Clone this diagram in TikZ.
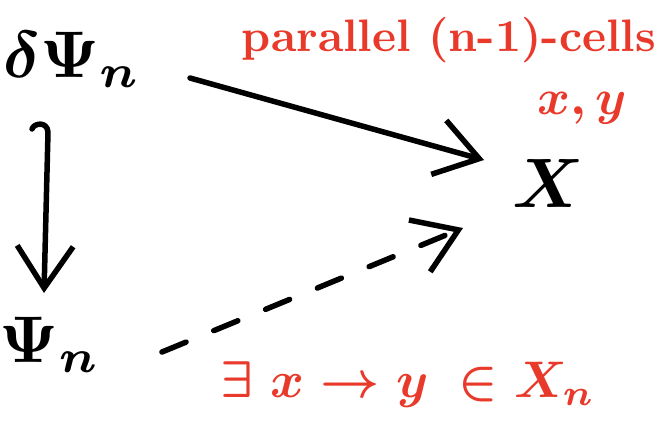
\documentclass[tikz,border=0pt]{standalone}
\usepackage{graphicx}
\usepackage{tikz}
\usetikzlibrary{arrows.meta}
\definecolor{inkred}{HTML}{E8392A}
\newcommand{\handsz}[2]{\scalebox{#1}{#2}}

\begin{document}
\begin{tikzpicture}[x=1pt,y=-1pt,
        obj/.style={inner sep=2pt},
        note/.style={text=inkred,inner sep=1pt},
        arr/.style={line width=5.5pt,line cap=round,line join=round,
                    -{Straight Barb[length=42pt,width=56pt,line width=5.5pt]}}]
    \useasboundingbox (0,0) rectangle (658,434);

    \node[obj] (dpsi) at (72, 60) {\handsz{6.6}{\boldmath$\delta\Psi_n$}};
    \node[obj] (psi)  at (50, 345) {\handsz{6.6}{\boldmath$\Psi_n$}};
    \node[obj] (X)    at (548, 183) {\handsz{7}{\boldmath$X$}};

    \node[note] (par) at (449, 40) {\handsz{4.55}{\bfseries parallel (n-1)-cells}};
    \node[note] (xy)  at (582, 108) {\handsz{5}{\boldmath$x,y$}};
    \node[note] (ex)  at (408, 385) {\handsz{5.15}{\boldmath$\exists\; x\to y\:\in X_n$}};

    \draw[arr] ([shift={(118,18)}]dpsi.center) -- ([shift={(-64,-23)}]X.center);
    % hooked start of the vertical arrow
    \draw[arr] ([shift={(-40,69)}]dpsi.center)
        .. controls ([shift={(-38,63)}]dpsi.center) and ([shift={(-25,61)}]dpsi.center)
        .. ([shift={(-24,72)}]dpsi.center)
        -- ([shift={(-6,-52)}]psi.center);
    \draw[arr,dash pattern=on 26pt off 30pt]
        ([shift={(112,7)}]psi.center) -- ([shift={(-85,45)}]X.center);
\end{tikzpicture}
\end{document}
